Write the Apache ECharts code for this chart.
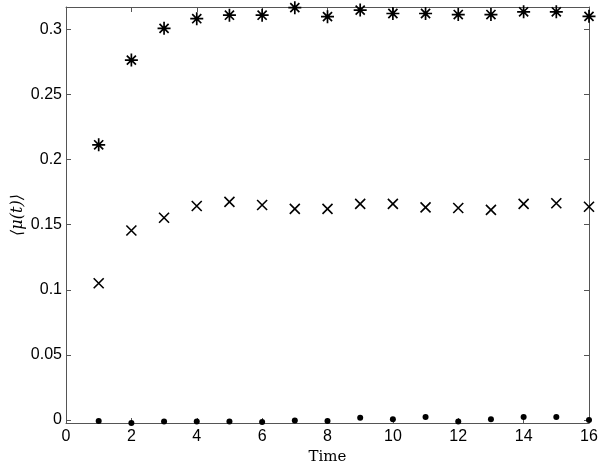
<!DOCTYPE html>
<html>
<head>
<meta charset="utf-8">
<script src="https://cdn.jsdelivr.net/npm/echarts@6/dist/echarts.min.js"></script>
<style>
  html, body { margin: 0; padding: 0; background: #fff; }
  #container { width: 600px; height: 469px; }
</style>
</head>
<body>
<div id="container"></div>
<script>
// valores
var times = [1, 2, 3, 4, 5, 6, 7, 8, 9, 10, 11, 12, 13, 14, 15, 16];
var starValues = [0.2114, 0.2765, 0.3009, 0.3083, 0.3110, 0.3110, 0.3168, 0.3099,
                  0.3149, 0.3123, 0.3123, 0.3115, 0.3115, 0.3136, 0.3136, 0.3101];
var crossValues = [0.1050, 0.1455, 0.1553, 0.1644, 0.1675, 0.1651, 0.1622, 0.1622,
                   0.1660, 0.1660, 0.1633, 0.1628, 0.1614, 0.1660, 0.1665, 0.1638];
var dotValues = [-0.0008, -0.0024, -0.0013, -0.0013, -0.0013, -0.0016, -0.0005, -0.0008,
                 0.0016, 0.0005, 0.0022, -0.0013, 0.0005, 0.0022, 0.0022, 0.0000];
var xTicks = [0, 2, 4, 6, 8, 10, 12, 14, 16];
var yTicks = [0, 0.05, 0.1, 0.15, 0.2, 0.25, 0.3];

function pairs(vals) {
    return times.map(function (t, i) { return [t, vals[i]]; });
}

document.addEventListener('DOMContentLoaded', function () {
    var dom = document.getElementById('container');
    var myChart = echarts.init(dom, null, { renderer: 'canvas' });

    var lineColor = '#555';
    var labelFont = { color: '#000', fontSize: 16, fontFamily: 'Liberation Sans, Arial, sans-serif' };

    var option = {
        backgroundColor: '#fff',
        animation: false,
        grid: { left: 66, right: 11, top: 7, bottom: 46, outerBoundsMode: 'none', containLabel: false },
        xAxis: [
            {
                type: 'value', min: 0, max: 16, interval: 2,
                name: 'Time', nameLocation: 'middle', nameGap: 26,
                nameTextStyle: { fontFamily: 'DejaVu Serif, Liberation Serif, serif', fontSize: 15, color: '#000' },
                axisLine: { show: true, onZero: false, lineStyle: { color: lineColor, width: 1 } },
                axisTick: { inside: true, length: 5, lineStyle: { color: lineColor } },
                axisLabel: Object.assign({ margin: 6 }, labelFont),
                splitLine: { show: false }
            },
            {
                type: 'value', min: 0, max: 16, interval: 2, position: 'top',
                axisLine: { show: true, onZero: false, lineStyle: { color: lineColor, width: 1 } },
                axisTick: { inside: true, length: 5, lineStyle: { color: lineColor } },
                axisLabel: { show: false },
                splitLine: { show: false }
            }
        ],
        yAxis: [
            {
                type: 'value', min: -0.0024, max: 0.3173,
                name: '⟨μ(t)⟩', nameLocation: 'middle', nameGap: 40, nameRotate: 90,
                nameMoveOverlap: false,
                nameTextStyle: { fontFamily: 'DejaVu Serif, Liberation Serif, serif', fontStyle: 'italic', fontSize: 16, color: '#000' },
                axisLine: { show: true, onZero: false, lineStyle: { color: lineColor, width: 1 } },
                axisTick: { inside: true, length: 5, customValues: yTicks, lineStyle: { color: lineColor } },
                axisLabel: Object.assign({ margin: 4, customValues: yTicks }, labelFont),
                splitLine: { show: false }
            },
            {
                type: 'value', min: -0.0024, max: 0.3173, position: 'right',
                axisLine: { show: true, onZero: false, lineStyle: { color: lineColor, width: 1 } },
                axisTick: { inside: true, length: 5, customValues: yTicks, lineStyle: { color: lineColor } },
                axisLabel: { show: false, customValues: yTicks },
                splitLine: { show: false }
            }
        ],
        series: [
            {
                type: 'scatter',
                data: pairs(starValues),
                symbol: 'path://M6,0L6,12M0,6L12,6M1.8,1.8L10.2,10.2M10.2,1.8L1.8,10.2',
                symbolSize: 13,
                itemStyle: { color: 'transparent', borderColor: '#000', borderWidth: 1.7, opacity: 1 },
                clip: false
            },
            {
                type: 'scatter',
                data: pairs(crossValues),
                symbol: 'path://M0,0L10,10M10,0L0,10',
                symbolSize: 10,
                itemStyle: { color: 'transparent', borderColor: '#000', borderWidth: 1.6, opacity: 1 },
                clip: false
            },
            {
                type: 'scatter',
                data: pairs(dotValues),
                symbol: 'circle',
                symbolSize: 6,
                itemStyle: { color: '#000', opacity: 1 },
                clip: false
            }
        ]
    };

    myChart.setOption(option);
    window.addEventListener('resize', myChart.resize);
});
</script>
</body>
</html>
